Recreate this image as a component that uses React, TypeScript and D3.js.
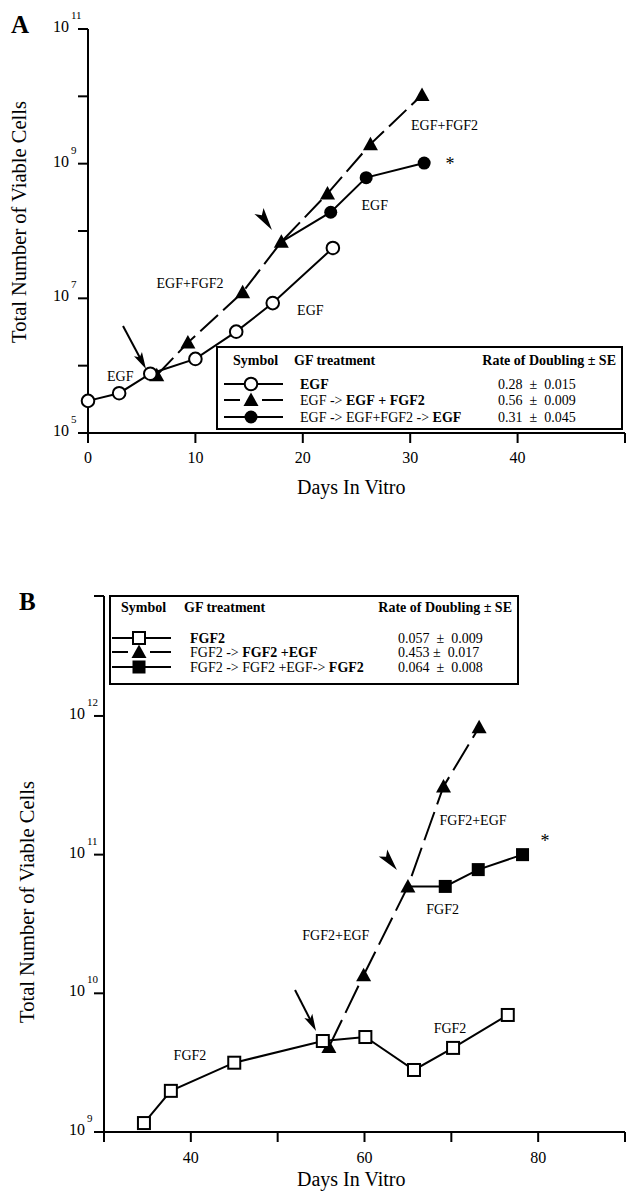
import React from 'react';
import * as d3 from 'd3';

const FONT = '"Liberation Serif", "Times New Roman", serif';

// ---------- Panel A data ----------
const daysA_EGF = [0, 2.9, 5.8, 10.0, 13.8, 17.2, 22.8];
const cellsA_EGF = [3.0e5, 3.9e5, 7.6e5, 1.26e6, 3.2e6, 8.5e6, 5.6e7];
const daysA_EGFFGF = [6.4, 9.3, 14.4, 18.0, 22.3, 26.3, 31.1];
const cellsA_EGFFGF = [7.2e5, 2.2e6, 1.23e7, 6.9e7, 3.6e8, 1.95e9, 1.05e10];
const daysA_back = [18.0, 22.6, 25.9, 31.3];
const cellsA_back = [6.9e7, 1.9e8, 6.2e8, 1.02e9];

const xTicksA = [0, 10, 20, 30, 40, 50];
const xTickLabelsA = ['0', '10', '20', '30', '40', ''];
const yExpA = [5, 6, 7, 8, 9, 10, 11];
const yExpLabelsA = [5, 7, 9, 11];

// ---------- Panel B data ----------
const daysB_FGF = [34.6, 37.7, 45.0, 55.2, 60.1, 65.7, 70.2, 76.5];
const cellsB_FGF = [1.16e9, 1.98e9, 3.16e9, 4.53e9, 4.84e9, 2.8e9, 4.04e9, 6.98e9];
const daysB_FGFEGF = [55.9, 59.9, 65.0, 69.1, 73.2];
const cellsB_FGFEGF = [4.1e9, 1.35e10, 5.9e10, 3.1e11, 8.3e11];
const daysB_back = [65.0, 69.3, 73.1, 78.2];
const cellsB_back = [5.9e10, 5.9e10, 7.8e10, 1.0e11];

const xTicksB = [30, 40, 50, 60, 70, 80, 90];
const xTickLabelsB = ['', '40', '', '60', '', '80', ''];
const yExpB = [9, 10, 11, 12, 12.865];
const yExpLabelsB = [9, 10, 11, 12];

// legends
const legendA = [
  { marker: 'circleOpen', dashed: false, parts: [{ t: 'EGF', b: true }], value: '0.28\u00a0\u00a0±\u00a0\u00a00.015' },
  { marker: 'triangle', dashed: true, parts: [{ t: 'EGF -> ', b: false }, { t: 'EGF + FGF2', b: true }], value: '0.56\u00a0\u00a0±\u00a0\u00a00.009' },
  { marker: 'circleFilled', dashed: false, parts: [{ t: 'EGF -> EGF+FGF2 -> ', b: false }, { t: 'EGF', b: true }], value: '0.31\u00a0\u00a0±\u00a0\u00a00.045' },
];
const legendB = [
  { marker: 'squareOpen', dashed: false, parts: [{ t: 'FGF2', b: true }], value: '0.057\u00a0\u00a0±\u00a0\u00a00.009' },
  { marker: 'triangle', dashed: true, parts: [{ t: 'FGF2 -> ', b: false }, { t: 'FGF2 +EGF', b: true }], value: '0.453\u00a0±\u00a0\u00a00.017' },
  { marker: 'squareFilled', dashed: false, parts: [{ t: 'FGF2 -> FGF2 +EGF-> ', b: false }, { t: 'FGF2', b: true }], value: '0.064\u00a0\u00a0±\u00a0\u00a00.008' },
];

// annotations (data coords)
const labelsA = [
  { t: 'EGF', d: 3.0, v: 10 ** 5.85 },
  { t: 'EGF+FGF2', d: 9.5, v: 10 ** 7.23 },
  { t: 'EGF', d: 20.7, v: 10 ** 6.83 },
  { t: 'EGF', d: 26.7, v: 10 ** 8.39 },
  { t: 'EGF+FGF2', d: 33.2, v: 10 ** 9.57 },
];
const starA = { d: 33.7, v: 10 ** 9.02 };
const labelsB = [
  { t: 'FGF2', d: 39.9, v: 10 ** 9.555 },
  { t: 'FGF2', d: 69.85, v: 10 ** 9.75 },
  { t: 'FGF2+EGF', d: 56.7, v: 10 ** 10.42 },
  { t: 'FGF2+EGF', d: 72.5, v: 10 ** 11.25 },
  { t: 'FGF2', d: 69.0, v: 10 ** 10.61 },
];
const starB = { d: 80.8, v: 10 ** 11.11 };

const arrowA = { d0: 3.26, v0: 10 ** 6.589, d1: 5.4, v1: 10 ** 5.95 };
const wedgeA = { d0: 15.92, v0: 10 ** 8.297, d1: 17.13, v1: 10 ** 8.015 };
const arrowB = { d0: 52.0, v0: 10 ** 10.024, d1: 54.42, v1: 10 ** 9.728 };
const wedgeB = { d0: 62.13, v0: 10 ** 11.012, d1: 63.74, v1: 10 ** 10.889 };

function Marker({ type, x, y }: { type: string; x: number; y: number }) {
  if (type === 'circleOpen') return <circle cx={x} cy={y} r={6.3} fill="#fff" stroke="#000" strokeWidth={2} />;
  if (type === 'circleFilled') return <circle cx={x} cy={y} r={6.5} fill="#000" />;
  if (type === 'squareOpen') return <rect x={x - 6} y={y - 6} width={12} height={12} fill="#fff" stroke="#000" strokeWidth={2} />;
  if (type === 'squareFilled') return <rect x={x - 6.5} y={y - 6.5} width={13} height={13} fill="#000" />;
  // triangle
  return <path d={`M${x},${y - 7.5}L${x + 7.5},${y + 6}L${x - 7.5},${y + 6}Z`} fill="#000" />;
}

function headPath(x0: number, y0: number, x1: number, y1: number, L: number, W: number) {
  const dx = x1 - x0, dy = y1 - y0;
  const len = Math.hypot(dx, dy);
  const ux = dx / len, uy = dy / len;
  const nx = -uy, ny = ux;
  const bx = x1 - ux * L, by = y1 - uy * L;
  const mx = x1 - ux * L * 0.78, my = y1 - uy * L * 0.78;
  return `M${x1},${y1}L${bx + nx * W / 2},${by + ny * W / 2}L${mx},${my}L${bx - nx * W / 2},${by - ny * W / 2}Z`;
}

function Arrow({ x0, y0, x1, y1 }: any) {
  const dx = x1 - x0, dy = y1 - y0;
  const len = Math.hypot(dx, dy);
  const ux = dx / len, uy = dy / len;
  const sx = x1 - ux * 12, sy = y1 - uy * 12;
  return (
    <g>
      <line x1={x0} y1={y0} x2={sx} y2={sy} stroke="#000" strokeWidth={2} />
      <path d={headPath(x0, y0, x1, y1, 17, 9)} fill="#000" />
    </g>
  );
}

function Wedge({ x0, y0, x1, y1 }: any) {
  const L = Math.hypot(x1 - x0, y1 - y0);
  return <path d={headPath(x0, y0, x1, y1, L, 11)} fill="#000" />;
}

function Legend({ rows, box, symX, textX, valueX, headY, rowYs }: any) {
  return (
    <g fontFamily={FONT}>
      <rect x={box[0]} y={box[1]} width={box[2] - box[0]} height={box[3] - box[1]} fill="#fff" stroke="#000" strokeWidth={2} />
      <text x={symX - 18} y={headY} fontSize={14} fontWeight="bold">Symbol</text>
      <text x={textX - 6} y={headY} fontSize={14} fontWeight="bold">GF treatment</text>
      <text x={box[2] - 6} y={headY} fontSize={14} fontWeight="bold" textAnchor="end">Rate of Doubling ± SE</text>
      {rows.map((r: any, i: number) => {
        const y = rowYs[i];
        return (
          <g key={i}>
            {r.dashed ? (
              <g>
                <line x1={symX - 27} x2={symX - 11} y1={y} y2={y} stroke="#000" strokeWidth={2} />
                <line x1={symX + 11} x2={symX + 32} y1={y} y2={y} stroke="#000" strokeWidth={2} />
              </g>
            ) : (
              <line x1={symX - 27} x2={symX + 32} y1={y} y2={y} stroke="#000" strokeWidth={2} />
            )}
            <Marker type={r.marker} x={symX} y={y} />
            <text x={textX} y={y + 5} fontSize={14}>
              {r.parts.map((p: any, j: number) => (
                <tspan key={j} fontWeight={p.b ? 'bold' : 'normal'}>{p.t.replace(/ /g, '\u00a0')}</tspan>
              ))}
            </text>
            <text x={valueX} y={y + 5} fontSize={14}>{r.value}</text>
          </g>
        );
      })}
    </g>
  );
}

function Axes({ x, y, xTicks, xLabels, yExp, yLabels, labelDY }: any) {
  const [x0, x1] = x.range();
  const [y0, y1] = y.range();
  return (
    <g fontFamily={FONT} stroke="#000">
      <line x1={x0} x2={x1} y1={y0} y2={y0} strokeWidth={2} />
      <line x1={x0} x2={x0} y1={y0} y2={y1} strokeWidth={2} />
      {xTicks.map((t: number, i: number) => (
        <g key={'x' + i}>
          <line x1={x(t)} x2={x(t)} y1={y0} y2={y0 + 10} strokeWidth={2} />
          {xLabels[i] ? (
            <text x={x(t)} y={y0 + labelDY} fontSize={16} textAnchor="middle" stroke="none" fill="#000">{xLabels[i]}</text>
          ) : null}
        </g>
      ))}
      {yExp.map((e: number, i: number) => {
        const yy = y(10 ** e);
        const lab = yLabels.includes(e);
        return (
          <g key={'y' + i}>
            <line x1={x0 - 10} x2={x0} y1={yy} y2={yy} strokeWidth={2} />
            {lab ? (
              <g stroke="none" fill="#000">
                <text x={x0 - 19} y={yy + 3} fontSize={16} textAnchor="end">10</text>
                <text x={x0 - 17} y={yy - 10} fontSize={11}>{String(e)}</text>
              </g>
            ) : null}
          </g>
        );
      })}
    </g>
  );
}

function Series({ x, y, days, cells, marker, dash, skipFirst }: any) {
  const pts = days.map((d: number, i: number) => [x(d), y(cells[i])] as [number, number]);
  const line = d3.line();
  return (
    <g>
      <path d={line(pts) || ''} fill="none" stroke="#000" strokeWidth={2} strokeDasharray={dash || undefined} />
      {pts.map((p: [number, number], i: number) => (skipFirst && i === 0 ? null : <Marker key={i} type={marker} x={p[0]} y={p[1]} />))}
    </g>
  );
}

export default function App() {
  const xA = d3.scaleLinear().domain([0, 50]).range([88, 625]);
  const yA = d3.scaleLog().domain([1e5, 1e11]).range([433, 29]);
  const xB = d3.scaleLinear().domain([30, 90]).range([104, 625]);
  const yB = d3.scaleLog().domain([1e9, 10 ** 12.865]).range([1132, 596]);

  return (
    <svg width={630} height={1199} style={{ position: 'absolute', left: 0, top: 0, background: '#fff' }} fontFamily={FONT}>
      <rect x={0} y={0} width={630} height={1199} fill="#fff" />
      {/* Panel A */}
      <text x={11} y={33} fontSize={25} fontWeight="bold">A</text>
      <Axes x={xA} y={yA} xTicks={xTicksA} xLabels={xTickLabelsA} yExp={yExpA} yLabels={yExpLabelsA} labelDY={30} />
      <text transform="translate(26,222) rotate(-90)" fontSize={20.5} textAnchor="middle">Total Number of Viable Cells</text>
      <text x={297} y={494} fontSize={20}>Days In Vitro</text>
      <Legend rows={legendA} box={[217, 347, 622, 429]} symX={251} textX={300} valueX={498} headY={365} rowYs={[384, 400, 417]} />
      <Series x={xA} y={yA} days={daysA_back} cells={cellsA_back} marker="circleFilled" skipFirst />
      <Series x={xA} y={yA} days={daysA_EGFFGF} cells={cellsA_EGFFGF} marker="triangle" dash="24 7" />
      <Series x={xA} y={yA} days={daysA_EGF} cells={cellsA_EGF} marker="circleOpen" />
      {labelsA.map((l, i) => (
        <text key={i} x={xA(l.d)} y={yA(l.v) + 5} fontSize={14} textAnchor="middle">{l.t}</text>
      ))}
      <text x={xA(starA.d)} y={yA(starA.v) + 8} fontSize={18} textAnchor="middle">*</text>
      <Arrow x0={xA(arrowA.d0)} y0={yA(arrowA.v0)} x1={xA(arrowA.d1)} y1={yA(arrowA.v1)} />
      <Wedge x0={xA(wedgeA.d0)} y0={yA(wedgeA.v0)} x1={xA(wedgeA.d1)} y1={yA(wedgeA.v1)} />

      {/* Panel B */}
      <text x={19} y={610} fontSize={25} fontWeight="bold">B</text>
      <Axes x={xB} y={yB} xTicks={xTicksB} xLabels={xTickLabelsB} yExp={yExpB} yLabels={yExpLabelsB} labelDY={31} />
      <text transform="translate(34,902) rotate(-90)" fontSize={20.5} textAnchor="middle">Total Number of Viable Cells</text>
      <text x={297} y={1186} fontSize={20}>Days In Vitro</text>
      <Legend rows={legendB} box={[110, 596, 518, 684]} symX={139} textX={190} valueX={398} headY={612} rowYs={[638, 652, 667]} />
      <Series x={xB} y={yB} days={daysB_FGFEGF} cells={cellsB_FGFEGF} marker="triangle" dash="30 8" />
      <Series x={xB} y={yB} days={daysB_back} cells={cellsB_back} marker="squareFilled" skipFirst />
      <Series x={xB} y={yB} days={daysB_FGF} cells={cellsB_FGF} marker="squareOpen" />
      {labelsB.map((l, i) => (
        <text key={i} x={xB(l.d)} y={yB(l.v) + 5} fontSize={14} textAnchor="middle">{l.t}</text>
      ))}
      <text x={xB(starB.d)} y={yB(starB.v) + 8} fontSize={18} textAnchor="middle">*</text>
      <Arrow x0={xB(arrowB.d0)} y0={yB(arrowB.v0)} x1={xB(arrowB.d1)} y1={yB(arrowB.v1)} />
      <Wedge x0={xB(wedgeB.d0)} y0={yB(wedgeB.v0)} x1={xB(wedgeB.d1)} y1={yB(wedgeB.v1)} />
    </svg>
  );
}
